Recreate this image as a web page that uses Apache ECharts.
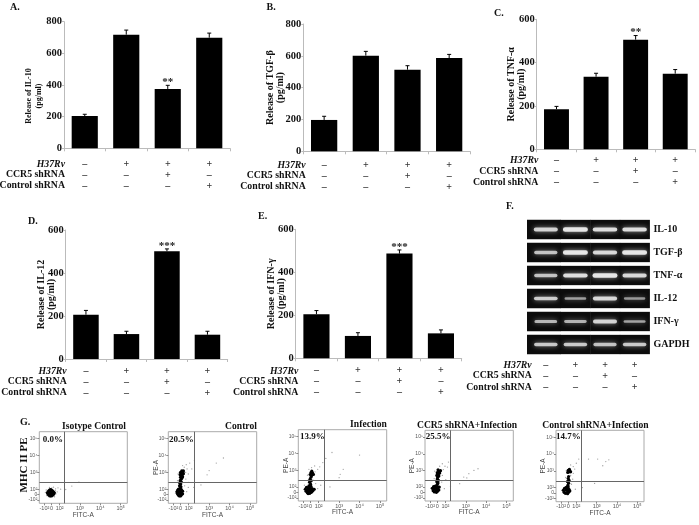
<!DOCTYPE html>
<html><head><meta charset="utf-8">
<style>html,body{margin:0;padding:0;background:#fff}#c{width:699px;height:525px}</style>
<script src="https://cdn.jsdelivr.net/npm/echarts@6/dist/echarts.min.js"></script>
</head><body><div id="c"></div>
<script>
// ---------- data ----------
const groups = ['Uninfected','H37Rv','H37Rv+CCR5 shRNA','H37Rv+Control shRNA'];
const h37Rv = ['–','+','+','+'];
const ccr5 = ['–','–','+','–'];
const controlSh = ['–','–','–','+'];
const il10 = [204,718,375,699];
const il10Top = [215,747,398,728];
const tgfb = [197,601,513,586];
const tgfbTop = [220,628,538,609];
const tnfa = [185,335,506,349];
const tnfaTop = [198,351,525,368];
const il12 = [206,116,501,113];
const il12Top = [226,129,512,129];
const ifng = [205,104,487,116];
const ifngTop = [222,119,504,132];
const starsA = ['','','**',''];
const starsC = ['','','**',''];
const starsD = ['','','***',''];
const starsE = ['','','***',''];
const noStars = ['','','',''];
const genes = ['IL-10','TGF-β','TNF-α','IL-12','IFN-γ','GAPDH'];
const gelIL10 = [.8,1,.9,.9];
const gelTGF = [.65,1,.85,1];
const gelTNF = [.65,.9,1,.85];
const gelIL12 = [.75,.35,.85,.3];
const gelIFN = [.55,.5,.8,.4];
const gelGAPDH = [.7,.7,.65,.7];
const flowXTicks = [1.25,1.6,2,3,4,5];
const flowXLabels = ['-10²','0','10²','10³','10⁴','10⁵'];
const flowYTicks = [1.35,1.68,2,3,4,5];
const flowYLabels = ['-10²','0','10²','10³','10⁴','10⁵'];
const isoCore = [[1.40,1.78],[1.44,1.70],[1.44,1.86],[1.48,1.64],[1.48,1.78],[1.48,1.92],[1.52,1.60],[1.52,1.72],[1.52,1.84],[1.52,1.96],[1.56,1.62],[1.56,1.74],[1.56,1.86],[1.56,1.98],[1.60,1.60],[1.60,1.72],[1.60,1.84],[1.60,1.94],[1.65,1.64],[1.65,1.76],[1.65,1.90],[1.70,1.70],[1.70,1.82],[1.74,1.78]];
const isoSparse = [[1.30,1.80],[1.34,1.95],[1.36,1.62],[1.78,1.92],[1.82,1.72],[1.80,2.02],[1.88,1.84],[1.92,2.08],[1.75,1.55],[1.50,2.10],[1.62,2.08],[2.05,2.00],[2.6,2.18],[2.95,2.42],[2.3,1.98],[1.70,2.12]];
const ctrlCore = [[1.42,1.84],[1.45,1.72],[1.46,1.94],[1.50,1.64],[1.50,1.80],[1.50,2.00],[1.54,1.60],[1.54,1.74],[1.54,1.88],[1.57,1.66],[1.57,1.80],[1.57,1.96],[1.60,1.60],[1.60,1.74],[1.60,1.90],[1.64,1.66],[1.64,1.82],[1.64,1.98],[1.70,1.72],[1.70,1.88],[1.58,2.05],[1.62,2.14],[1.55,2.20],[1.60,2.28],[1.56,2.36],[1.64,2.42],[1.58,2.50],[1.62,2.58],[1.66,2.64],[1.60,2.70],[1.70,2.74],[1.62,2.80],[1.68,2.86],[1.58,2.86],[1.74,2.92],[1.64,2.94],[1.70,3.00],[1.60,3.00],[1.66,3.08],[1.74,3.08]];
const ctrlSparse = [[1.80,2.2],[1.86,2.6],[1.45,2.5],[1.48,2.9],[1.85,3.0],[1.92,3.2],[1.98,2.9],[1.78,3.3],[1.88,3.45],[2.05,3.55],[2.15,3.2],[2.28,3.7],[1.70,3.4],[2.0,2.4],[2.25,2.1],[2.6,2.25],[3.0,3.1],[3.35,3.55],[3.7,3.85],[2.9,2.85],[1.35,1.75],[1.9,1.85],[1.98,2.1]];
const infCore = [[1.34,1.86],[1.38,1.74],[1.40,1.98],[1.44,1.66],[1.44,1.84],[1.48,1.60],[1.48,1.96],[1.50,1.74],[1.52,1.86],[1.52,2.06],[1.56,1.62],[1.56,1.76],[1.58,1.94],[1.60,1.66],[1.62,1.82],[1.62,2.04],[1.66,1.70],[1.68,1.90],[1.72,1.78],[1.78,1.86],[1.60,2.16],[1.55,2.28],[1.63,2.36],[1.58,2.46],[1.62,2.58],[1.66,2.68],[1.58,2.74],[1.70,2.82],[1.62,2.86],[1.66,2.94],[1.74,2.74]];
const infSparse = [[1.50,2.45],[1.72,2.4],[1.85,2.2],[1.45,2.7],[1.82,2.9],[1.95,3.05],[1.52,3.05],[1.65,3.15],[1.8,3.25],[2.05,3.2],[2.2,3.45],[2.35,3.7],[2.65,4.05],[4.0,3.9],[3.2,3.05],[3.05,2.75],[3.0,2.55],[2.55,2.0],[1.95,1.9],[2.1,2.1],[1.3,2.1]];
const ccrCore = [[1.36,1.92],[1.40,1.78],[1.42,2.02],[1.46,1.70],[1.46,1.90],[1.50,2.06],[1.52,1.76],[1.53,1.96],[1.56,1.68],[1.57,1.86],[1.60,2.04],[1.61,1.74],[1.64,1.94],[1.68,1.82],[1.70,2.00],[1.60,2.16],[1.64,2.24],[1.58,2.32],[1.66,2.40],[1.60,2.48],[1.62,2.58],[1.68,2.66],[1.58,2.70],[1.66,2.78],[1.72,2.84],[1.60,2.86],[1.68,2.94],[1.76,2.98],[1.64,3.04]];
const ccrSparse = [[1.45,2.5],[1.82,2.3],[1.85,2.7],[1.48,2.95],[1.9,3.05],[1.98,3.25],[1.72,3.25],[1.85,3.4],[2.1,3.2],[2.15,3.5],[2.02,2.45],[2.25,2.05],[3.15,2.8],[3.4,3.0],[3.6,3.1],[2.9,2.6],[3.05,2.55],[2.7,2.2],[1.3,1.95],[1.95,1.9]];
const ctlInfCore = [[1.36,1.84],[1.40,1.72],[1.42,1.96],[1.46,1.66],[1.48,1.86],[1.50,2.02],[1.52,1.70],[1.54,1.92],[1.57,1.64],[1.58,1.82],[1.60,2.04],[1.62,1.72],[1.64,1.90],[1.68,1.80],[1.58,2.14],[1.62,2.26],[1.56,2.36],[1.64,2.44],[1.60,2.54],[1.62,2.66],[1.58,2.90],[1.64,2.94],[1.60,3.02],[1.68,3.00],[1.66,3.08],[1.72,2.94]];
const ctlInfSparse = [[1.76,2.2],[1.82,2.5],[1.48,2.6],[1.72,2.72],[1.85,2.85],[1.5,3.0],[1.92,3.1],[1.85,3.25],[1.72,3.35],[2.0,3.45],[2.12,3.7],[2.6,3.7],[3.05,3.7],[3.45,3.55],[3.6,3.65],[3.3,3.3],[2.9,2.25],[2.3,2.0],[1.95,1.9],[1.3,1.85]];
const flowGateX = 2.25;
const flowGateY = 2.4;

// ---------- helpers ----------
const serif = '"Liberation Serif",serif';
const sans = '"Liberation Sans",sans-serif';
const grid=[], xAxis=[], yAxis=[], series=[], graphic=[];
function txt(t,x,y,o){ o=o||{};
  graphic.push({type:'text',x:x,y:y,rotation:o.rot||0,z:20,style:{text:t,fill:o.fill||'#111',
    font:(o.it?'italic ':'')+(o.w||'bold')+' '+(o.s||10)+'px '+(o.f||serif),
    align:o.a||'left',verticalAlign:'middle'}});
}
function rows(right,ys){
  txt('H37Rv',right,ys[0],{a:'right',s:9.8,it:1});
  txt('CCR5 shRNA',right,ys[1],{a:'right',s:9.8});
  txt('Control shRNA',right,ys[2],{a:'right',s:9.8});
}
const treat = groups.map((g,i)=>h37Rv[i]+'\n'+ccr5[i]+'\n'+controlSh[i]);
function barPanel(p){
  const g=grid.length;
  grid.push({left:p.l,top:p.t,width:p.r-p.l,height:p.b-p.t});
  xAxis.push({gridIndex:g,type:'category',data:treat,
    axisLine:{lineStyle:{color:'#bbb'}},axisTick:{show:true,length:3,lineStyle:{color:'#bbb'}},
    axisLabel:{interval:0,margin:p.lm,color:'#333',fontFamily:serif,fontSize:10,lineHeight:p.lh||10.8,fontWeight:'bold'}});
  yAxis.push({gridIndex:g,type:'value',min:0,max:p.max,interval:200,splitLine:{show:false},
    axisLine:{show:true,lineStyle:{color:'#bbb'}},axisTick:{show:true,length:2,lineStyle:{color:'#bbb'}},
    axisLabel:{margin:2,color:'#111',fontFamily:serif,fontSize:10.5,fontWeight:'bold'},
    name:p.name,nameLocation:'middle',nameRotate:90,nameGap:p.gap,nameMoveOverlap:false,
    nameTextStyle:{fontFamily:serif,fontWeight:'bold',fontSize:p.ns||10,lineHeight:10,color:'#111',padding:p.pad||0}});
  series.push({type:'bar',xAxisIndex:g,yAxisIndex:g,data:p.v,barWidth:'63%',itemStyle:{color:'#000'},silent:true});
  series.push({type:'custom',xAxisIndex:g,yAxisIndex:g,data:p.top.map((v,i)=>[i,v,p.v[i]]),silent:true,clip:false,z:5,
    renderItem:(params,api)=>{
      const a=api.coord([api.value(0),api.value(1)]), b=api.coord([api.value(0),api.value(2)]);
      const ch=[
        {type:'line',shape:{x1:a[0],y1:a[1],x2:b[0],y2:b[1]},style:{stroke:'#000',lineWidth:1}},
        {type:'line',shape:{x1:a[0]-2,y1:a[1],x2:a[0]+2,y2:a[1]},style:{stroke:'#000',lineWidth:1}}];
      const s=p.stars[params.dataIndex];
      if(s) ch.push({type:'text',x:a[0],y:a[1]+2.5,style:{text:s,fill:'#222',font:'bold 11px '+serif,align:'center',verticalAlign:'bottom'}});
      return {type:'group',children:ch};
    }});
}
function flowPanel(p){
  const g=grid.length;
  grid.push({left:p.l,top:p.t,width:p.r-p.l,height:p.b-p.t,show:true,borderColor:'#aaa',borderWidth:1,backgroundColor:'transparent'});
  const labelMap=(ticks,labs)=>v=>{const i=ticks.findIndex(t=>Math.abs(t-v)<1e-6);return i<0?'':labs[i];};
  xAxis.push({gridIndex:g,type:'value',min:1,max:5.33,splitLine:{show:false},
    axisLine:{show:false},axisTick:{show:true,length:2,customValues:flowXTicks,lineStyle:{color:'#888'}},
    axisLabel:{customValues:flowXTicks,formatter:labelMap(flowXTicks,flowXLabels),margin:2,fontSize:5.5,color:'#555',fontFamily:sans,showMinLabel:true,showMaxLabel:true,hideOverlap:false},
    name:'FITC-A',nameLocation:'middle',nameGap:8,nameMoveOverlap:false,nameTextStyle:{fontSize:6.5,color:'#444',fontFamily:sans}});
  yAxis.push({gridIndex:g,type:'value',min:1.16,max:5.41,splitLine:{show:false},
    axisLine:{show:false},axisTick:{show:true,length:2,customValues:flowYTicks,lineStyle:{color:'#888'}},
    axisLabel:{customValues:flowYTicks,formatter:labelMap(flowYTicks,flowYLabels),margin:2,fontSize:5,color:'#555',fontFamily:sans,hideOverlap:false},
    name:p.yName||'',nameLocation:'middle',nameGap:9,nameRotate:90,nameMoveOverlap:false,nameTextStyle:{fontSize:6.5,color:'#444',fontFamily:sans}});
  series.push({type:'scatter',xAxisIndex:g,yAxisIndex:g,data:p.sparse,symbolSize:1.3,itemStyle:{color:'#888'},silent:true,
    markLine:{silent:true,symbol:'none',label:{show:false},animation:false,lineStyle:{color:'#666',width:1,type:'solid'},
      data:[{xAxis:flowGateX},{yAxis:flowGateY}]}});
  series.push({type:'scatter',xAxisIndex:g,yAxisIndex:g,data:p.core,symbolSize:3.2,itemStyle:{color:'#000',opacity:1},silent:true});
}

// ---------- panels ----------
barPanel({l:64,r:230,t:21.7,b:148.3,max:800,v:il10,top:il10Top,stars:starsA,name:'Release of IL-10\n(pg/ml)',gap:20,ns:8,pad:[0,22,0,0],lm:11});
barPanel({l:303.3,r:470,t:24,b:151.3,max:800,v:tgfb,top:tgfbTop,stars:noStars,name:'Release of TGF-β\n(pg/ml)',gap:18,ns:10,lm:9});
barPanel({l:536.7,r:695,t:19.3,b:149.3,max:600,v:tnfa,top:tnfaTop,stars:starsC,name:'Release of TNF-α\n(pg/ml)',gap:10,ns:10,lm:6});
barPanel({l:65.7,r:227.7,t:230,b:359,max:600,v:il12,top:il12Top,stars:starsD,name:'Release of IL-12\n(pg/ml)',gap:9,ns:10,lm:7});
barPanel({l:295.7,r:461.7,t:229.3,b:358.3,max:600,v:ifng,top:ifngTop,stars:starsE,name:'Release of IFN-γ\n(pg/ml)',gap:9,ns:10,lm:7});

// gel panel
(function(){
  const g=grid.length;
  const gel=[gelIL10,gelTGF,gelTNF,gelIL12,gelIFN,gelGAPDH];
  grid.push({left:531,top:218,width:118.4,height:138});
  xAxis.push({gridIndex:g,type:'category',data:treat,axisLine:{show:false},axisTick:{show:false},
    axisLabel:{interval:0,margin:4,color:'#333',fontFamily:serif,fontSize:10,lineHeight:10.8,fontWeight:'bold'}});
  yAxis.push({gridIndex:g,type:'category',data:genes,inverse:true,position:'right',axisLine:{show:false},axisTick:{show:false},
    axisLabel:{margin:4,color:'#111',fontFamily:serif,fontSize:10,fontWeight:'bold'}});
  const data=[]; gel.forEach((row,r)=>row.forEach((v,c)=>data.push([c,r,v])));
  series.push({type:'custom',xAxisIndex:g,yAxisIndex:g,data,silent:true,clip:false,
    renderItem:(params,api)=>{
      const c=api.value(0), v=api.value(2), p=api.coord([c,api.value(1)]), s=api.size([1,1]);
      const h=s[1]*0.84, w=20+5*v, bh=1.4+3*v;
      const ext=c===0?4:0;
      return {type:'group',children:[
        {type:'rect',shape:{x:p[0]-s[0]/2-ext,y:p[1]-h/2,width:s[0]+ext+0.5,height:h},style:{fill:'#0c0c0c'}},
        {type:'rect',shape:{x:p[0]-w/2,y:p[1]-bh/2,width:w,height:bh,r:bh/2},
          style:{fill:'#eee',opacity:0.4+0.55*v,shadowBlur:5,shadowColor:'#aaa'}}
      ]};
    }});
})();

// flow panels
flowPanel({l:39.3,r:127.3,t:431.7,b:503.3,core:isoCore,sparse:isoSparse});
flowPanel({l:168.3,r:256.7,t:431.7,b:503.3,core:ctrlCore,sparse:ctrlSparse,yName:'PE-A'});
flowPanel({l:298.3,r:386.7,t:429.7,b:501,core:infCore,sparse:infSparse,yName:'PE-A'});
flowPanel({l:425,r:513.3,t:430.3,b:501,core:ccrCore,sparse:ccrSparse,yName:'PE-A'});
flowPanel({l:556,r:644,t:430.3,b:501.7,core:ctlInfCore,sparse:ctlInfSparse,yName:'PE-A'});

// text
[['A.',10,7.5],['B.',266.5,7],['C.',494,13],['D.',28,221.7],['E.',258,216],['F.',506,206],['G.',20,422]].forEach(t=>txt(t[0],t[1],t[2],{s:10}));
rows(65,[164,174,185]); rows(305.7,[165,175,186.7]); rows(538.3,[160,171,182.7]);
rows(66.7,[371,381,392.3]); rows(298.3,[371,381,392.3]); rows(531.7,[365,375.5,387.3]);
[['Isotype Control',94,427],['Control',241,427],['Infection',368.5,424.3],['CCR5 shRNA+Infection',467,425.7],['Control shRNA+Infection',595.5,425.7]].forEach(t=>txt(t[0],t[1],t[2],{s:9.6,a:'center'}));
[['0.0%',42.7,440],['20.5%',169,440],['13.9%',300,437],['25.5%',425.7,437],['14.7%',556,436.5]].forEach(t=>txt(t[0],t[1],t[2],{s:9}));
txt('MHC II PE',24,465,{s:11,a:'center',rot:Math.PI/2});

echarts.init(document.getElementById('c'),null,{renderer:'canvas'}).setOption({
  animation:false,backgroundColor:'#fff',grid,xAxis,yAxis,series,graphic
});
</script></body></html>
